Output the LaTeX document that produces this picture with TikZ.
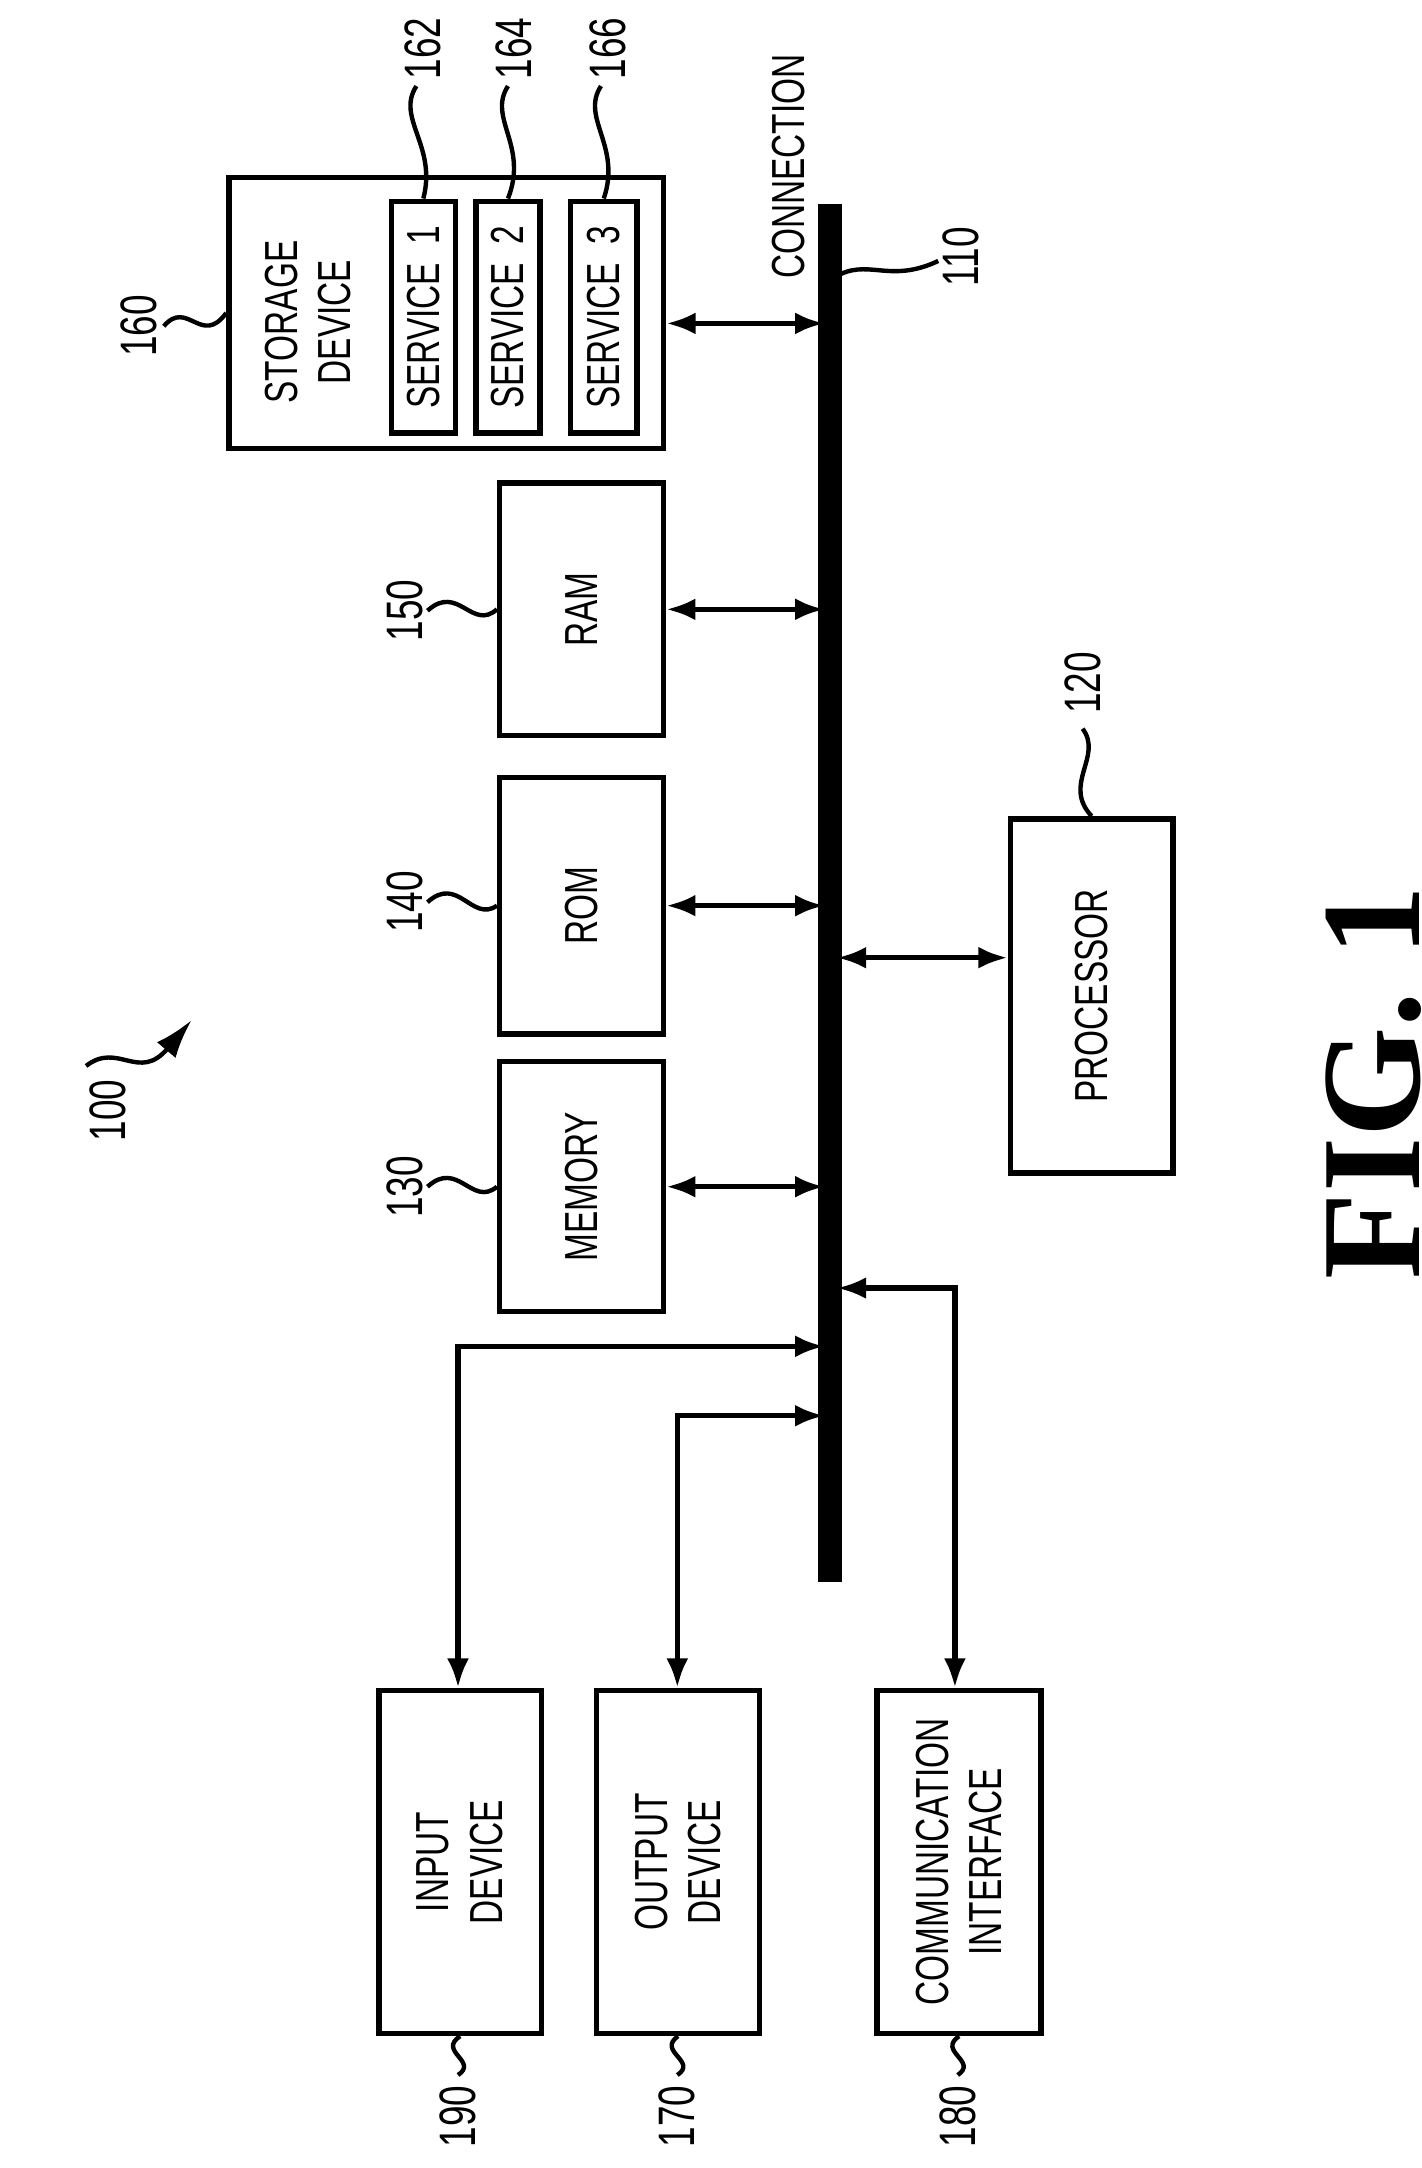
\documentclass[tikz,border=0pt]{standalone}
\usepackage{fontspec}
\newfontfamily\cond[FakeStretch=0.72]{Liberation Sans}
\usetikzlibrary{arrows.meta}
\begin{document}
\begin{tikzpicture}[x=0.01cm,y=-0.01cm,
  box/.style={draw,line width=1.1pt,inner sep=0pt},
  lbl/.style={rotate=90,font=\cond\fontsize{9.5}{11}\selectfont,align=center},
  num/.style={rotate=90,font=\cond\fontsize{10.5}{12}\selectfont},
  conn/.style={line width=1.1pt,{Latex[length=6pt,width=4.5pt]}-{Latex[length=6pt,width=4.5pt]}},
  sq/.style={line width=0.9pt}]
\useasboundingbox (0,0) rectangle (1024,1562);
% bus
\coordinate (bt) at (598,147); \coordinate (bb) at (598,1140);
\draw[line width=5pt] (bt) -- (bb);
\node[lbl] (cn) at (568,120) {CONNECTION};
\node[num] (n110) at (692,185) {110};
\draw[sq] (601,200) .. controls (625,185) and (640,205) .. (676,188);
% storage
\node[box,minimum width=3.13cm,minimum height=1.95cm] (sd) at (321.5,225.5) {};
\node[lbl] (sdt) at (222,232) {STORAGE\\DEVICE};
\node[box,minimum width=0.46cm,minimum height=1.67cm] (s1) at (305,228.5) {};
\node[box,minimum width=0.46cm,minimum height=1.67cm] (s2) at (366,228.5) {};
\node[box,minimum width=0.48cm,minimum height=1.67cm] (s3) at (435,228.5) {};
\node[lbl] (s1t) at (s1) {SERVICE\ \ 1};
\node[lbl] (s2t) at (s2) {SERVICE\ \ 2};
\node[lbl] (s3t) at (s3) {SERVICE\ \ 3};
\node[num] (n162) at (305,35) {162};
\node[num] (n164) at (370,35) {164};
\node[num] (n166) at (438,35) {166};
\draw[sq] (300,62) .. controls (285,85) and (315,105) .. (s1.north);
\draw[sq] (366,62) .. controls (351,85) and (381,105) .. (s2.north);
\draw[sq] (433,62) .. controls (418,85) and (448,105) .. (s3.north);
\node[num] (n160) at (100,235) {160};
\draw[sq] (118,235) .. controls (135,215) and (145,250) .. (sd.west);
\draw[conn] (sd.east |- 0,233) -- (594,233);
% RAM ROM MEMORY
\node[box,minimum width=1.18cm,minimum height=1.82cm] (ram) at (419,439) {};
\node[box,minimum width=1.18cm,minimum height=1.85cm] (rom) at (419,652.5) {};
\node[box,minimum width=1.18cm,minimum height=1.80cm] (mem) at (419,855) {};
\node[lbl] (ramt) at (ram) {RAM};
\node[lbl] (romt) at (rom) {ROM};
\node[lbl] (memt) at (mem) {MEMORY};
\node[num] (n150) at (292,440) {150};
\node[num] (n140) at (292,650) {140};
\node[num] (n130) at (292,855) {130};
\draw[sq] (308,440) .. controls (330,420) and (340,455) .. (ram.west);
\draw[sq] (308,650) .. controls (330,630) and (340,665) .. (rom.west);
\draw[sq] (308,855) .. controls (330,835) and (340,870) .. (mem.west);
\draw[conn] (ram.east) -- (594,439);
\draw[conn] (rom.east) -- (594,652.5);
\draw[conn] (mem.east) -- (594,855);
% processor
\node[box,minimum width=1.17cm,minimum height=2.55cm] (proc) at (786.5,717.5) {};
\node[lbl] (proct) at (proc) {PROCESSOR};
\node[num] (n120) at (780,492) {120};
\draw[sq] (780,525) .. controls (795,545) and (765,565) .. (proc.north);
\draw[conn] (603,690) -- (proc.west |- 0,690);
% 100
\node[num] (n100) at (78,800) {100};
\coordinate (a100) at (138,735);
\draw[sq,-{Latex[length=8pt,width=5pt]}] (62,768) .. controls (85,750) and (100,780) .. (a100);
% bottom boxes
\node[box,minimum width=1.17cm,minimum height=2.47cm] (in) at (331.5,1341.5) {};
\node[box,minimum width=1.17cm,minimum height=2.47cm] (out) at (488.5,1341.5) {};
\node[box,minimum width=1.18cm,minimum height=2.47cm] (com) at (691,1341.5) {};
\node[lbl] (int) at (in) {INPUT\\DEVICE};
\node[lbl] (outt) at (out) {OUTPUT\\DEVICE};
\node[lbl] (comt) at (com) {COMMUNICATION\\INTERFACE};
\draw[conn] (594,970) -- (330,970) -- (in.north -| 330,0);
\draw[conn] (594,1020) -- (488,1020) -- (out.north -| 488,0);
\draw[conn] (603,928) -- (688,928) -- (com.north -| 688,0);
\node[num] (n190) at (330,1525) {190};
\node[num] (n170) at (488,1525) {170};
\node[num] (n180) at (690,1525) {180};
\draw[sq] (330,1495) .. controls (345,1485) and (315,1478) .. (in.south);
\draw[sq] (488,1495) .. controls (503,1485) and (473,1478) .. (out.south);
\draw[sq] (690,1495) .. controls (705,1485) and (675,1478) .. (com.south);
% fig
\node[rotate=90,font=\fontspec{Liberation Serif}\bfseries\fontsize{29}{32}\selectfont] (fig) at (990,780) {FIG. 1};
\end{tikzpicture}
\end{document}
